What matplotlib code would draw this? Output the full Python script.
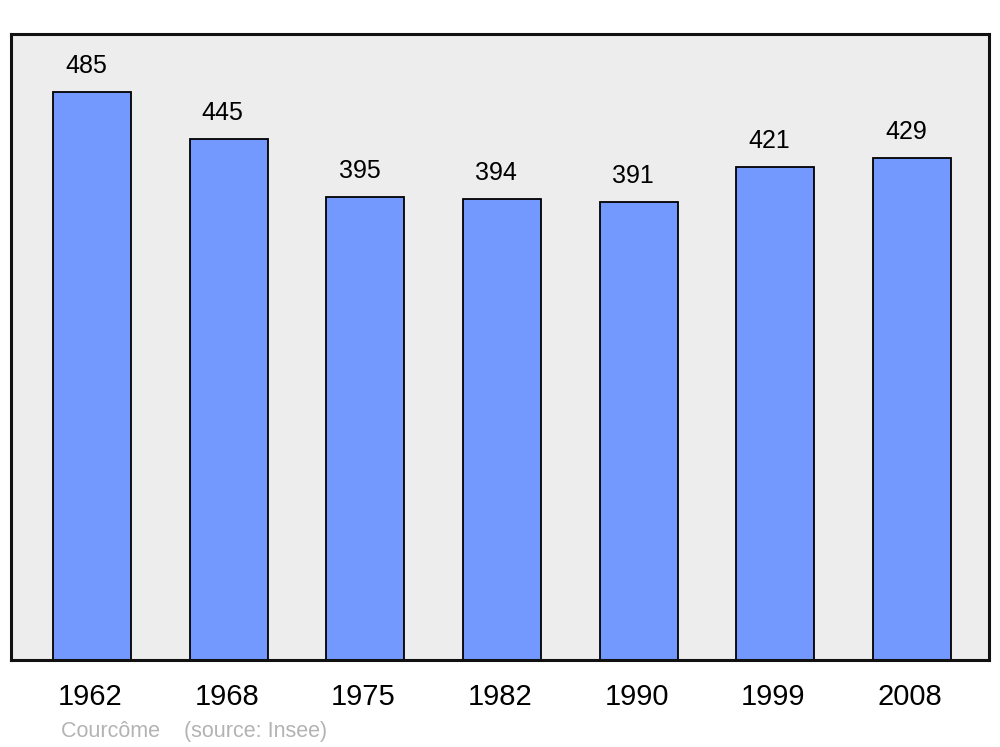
import matplotlib
matplotlib.use("Agg")
import matplotlib.pyplot as plt

years = ["1962", "1968", "1975", "1982", "1990", "1999", "2008"]
population = [485, 445, 395, 394, 391, 421, 429]

plt.rcParams['font.family'] = ['Liberation Sans', 'DejaVu Sans']

fig = plt.figure(figsize=(10, 7.47), dpi=100)
ax = fig.add_axes([11/1000, (747-660)/747, 978/1000, 626/747])
ax.set_facecolor('#ededed')

x = list(range(len(years)))
bars = ax.bar(x, population, width=0.572, color='#7399ff', edgecolor='black', linewidth=1.3, zorder=2)
ax.set_xlim(-0.593, 6.563)
ax.set_ylim(0, 534.6)
ax.set_xticks([])
ax.set_yticks([])
for s in ax.spines.values():
    s.set_linewidth(2.2)
    s.set_color('#111111')

for i, v in enumerate(population):
    ax.annotate(str(v), xy=(i, v), xytext=(-6, 26), textcoords='offset pixels',
                ha='center', va='center', fontsize=18, color='black')
    ax.annotate(years[i], xy=(i, 0), xycoords=('data', 'axes fraction'),
                xytext=(-2, -37), textcoords='offset pixels',
                ha='center', va='center', fontsize=21, color='black')

fig.text(61/1000, 1 - 731/747, "Courcôme    (source: Insee)", ha='left', va='center',
         fontsize=15.5, color='#b3b3b3')

fig.savefig('out.png', dpi=100)
